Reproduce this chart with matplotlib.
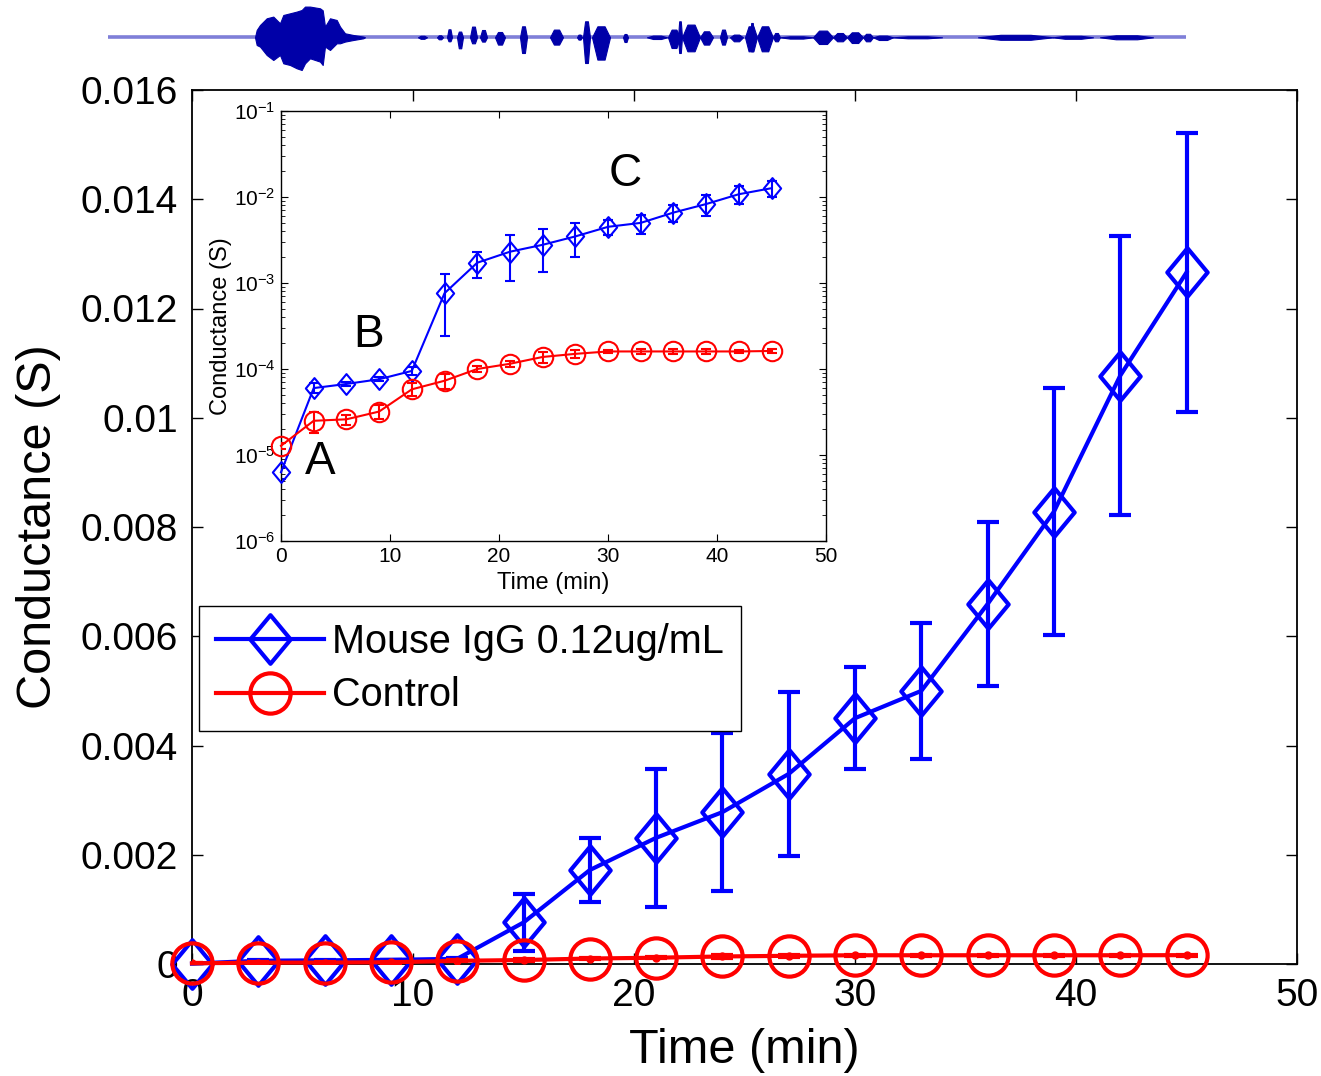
import numpy as np
import matplotlib
matplotlib.use('Agg')
import matplotlib.pyplot as plt
from matplotlib.path import Path

plt.rcParams['font.family'] = ['Liberation Sans', 'DejaVu Sans']
plt.rcParams['mathtext.fontset'] = 'custom'
plt.rcParams['mathtext.rm'] = 'Liberation Sans'
plt.rcParams['mathtext.default'] = 'regular'

# ---------------- data ----------------
time_min = [0, 3, 6, 9, 12, 15, 18, 21, 24, 27, 30, 33, 36, 39, 42, 45]
igg_mean = [6.3e-6, 6.0e-5, 6.7e-5, 7.6e-5, 9.5e-5, 7.6e-4, 1.72e-3, 2.31e-3,
            2.78e-3, 3.48e-3, 4.50e-3, 5.00e-3, 6.59e-3, 8.28e-3, 1.077e-2, 1.266e-2]
igg_err = [1.0e-6, 8.0e-6, 4.0e-6, 4.0e-6, 1.0e-5, 5.2e-4, 5.8e-4, 1.26e-3,
           1.45e-3, 1.50e-3, 0.93e-3, 1.25e-3, 1.50e-3, 2.26e-3, 2.55e-3, 2.55e-3]
ctrl_mean = [1.28e-5, 2.5e-5, 2.6e-5, 3.2e-5, 5.8e-5, 7.3e-5, 1.0e-4, 1.15e-4,
             1.38e-4, 1.5e-4, 1.6e-4, 1.6e-4, 1.6e-4, 1.6e-4, 1.6e-4, 1.62e-4]
ctrl_err = [1.0e-6, 7.0e-6, 3.5e-6, 6.0e-6, 1.0e-5, 1.5e-5, 8.0e-6, 1.0e-5,
            2.0e-5, 1.5e-5, 8.0e-6, 1.0e-5, 1.0e-5, 1.0e-5, 8.0e-6, 8.0e-6]
series_labels = ['Mouse IgG 0.12ug/mL', 'Control']

main_xticks = [0, 10, 20, 30, 40, 50]
main_yticks = [0, 0.002, 0.004, 0.006, 0.008, 0.01, 0.012, 0.014, 0.016]
main_yticklabels = ['0', '0.002', '0.004', '0.006', '0.008', '0.01', '0.012', '0.014', '0.016']
inset_yticks = [1e-6, 1e-5, 1e-4, 1e-3, 1e-2, 1e-1]
inset_yticklabels = ['$10^{-6}$', '$10^{-5}$', '$10^{-4}$', '$10^{-3}$', '$10^{-2}$', '$10^{-1}$']
stage_labels = ['A', 'B', 'C']

# audio waveform strip: main burst envelope (pos, up, down)
burst_pos = [147, 148.7, 152, 158.7, 165.3, 172, 175.3, 182, 188.7, 193.7, 197, 202,
             212, 214.7, 217, 222, 228.7, 232, 237, 245.3, 255.3, 257]
burst_up = [0, 7.3, 12.3, 19, 20.7, 14, 22.3, 24, 25.7, 27.3, 30.7, 30.7,
            29, 27, 10.7, 19, 17.3, 10.7, 4, 2.3, 0.7, 0]
burst_down = [0, 7.7, 9.3, 17.7, 22.7, 17.7, 26, 27.7, 31, 32.7, 26, 21,
              24.3, 27.7, 9.3, 12.7, 6, 6, 4.3, 2.7, 1, 0]
# smaller segments (start, end, up, down)
seg_start = [310, 329, 339, 349, 362, 372, 387, 412, 442, 469, 475, 484, 515, 539, 560, 570,
             574, 592, 612, 622, 637, 642, 649, 665, 672, 705, 725, 739, 755, 765, 785,
             870, 945, 992]
seg_end = [319, 335, 344, 355, 369, 379, 397, 419, 455, 474, 482, 502, 520, 559, 572, 574,
           592, 605, 619, 635, 649, 646, 665, 672, 705, 725, 739, 755, 765, 785, 834,
           945, 985, 1045]
seg_up = [1.5, 2, 8, 5.7, 10.7, 7.3, 5.3, 11, 7.7, 2.7, 16, 11, 3.3, 1.7, 7.7, 16,
          12.7, 6, 7.7, 2.7, 11, 14.3, 11, 4.3, 1, 6.7, 4.3, 5, 3.5, 1.7, 1,
          2.5, 1.5, 2]
seg_down = [1.5, 2, 4, 11, 6, 4.3, 7.3, 15.7, 7.3, 2.3, 25.7, 22.3, 4.7, 1.7, 10.7, 15.7,
            14, 7.3, 7.3, 4, 14, 14, 14, 4, 1.3, 6.7, 4, 5.7, 4, 2.7, 1,
            2.5, 1.5, 2]

# ---------------- figure ----------------
W, H = 1321, 1076
fig = plt.figure(figsize=(W / 100, H / 100), dpi=100)

def fig_rect(l, t, r, b):
    return [l / W, 1 - b / H, (r - l) / W, (b - t) / H]

BLUE = '#0000FF'
RED = '#FF0000'

diamond = Path([(0, 1), (0.83, 0), (0, -1), (-0.83, 0), (0, 1)],
               [Path.MOVETO, Path.LINETO, Path.LINETO, Path.LINETO, Path.CLOSEPOLY])

# main axes
ax = fig.add_axes(fig_rect(192, 90, 1297, 964))
ax.errorbar(time_min, igg_mean, yerr=igg_err, fmt='none', ecolor=BLUE,
            elinewidth=3, capsize=8, capthick=3, zorder=2)
l1, = ax.plot(time_min, igg_mean, color=BLUE, lw=3, marker=diamond, ms=35,
              mfc='none', mec=BLUE, mew=3, label=series_labels[0], zorder=3,
              clip_on=False)
ax.errorbar(time_min, ctrl_mean, yerr=ctrl_err, fmt='none', ecolor=RED,
            elinewidth=3, capsize=8, capthick=3, zorder=4)
l2, = ax.plot(time_min, ctrl_mean, color=RED, lw=3, marker='o', ms=29,
              mfc='none', mec=RED, mew=3, label=series_labels[1], zorder=5,
              clip_on=False)
ax.plot(time_min, ctrl_mean, ls='none', marker='o', ms=5, color=RED, zorder=5)
ax.set_xlim(0, 50)
ax.set_ylim(0, 0.016)
ax.set_xticks(main_xticks)
ax.set_xticklabels([str(v) for v in main_xticks])
ax.set_yticks(main_yticks)
ax.set_yticklabels(main_yticklabels)
ax.tick_params(direction='in', length=8, width=1, top=True, right=True,
               labelsize=28, pad=10)
for s in ax.spines.values():
    s.set_linewidth(1.3)
ax.set_xlabel('Time (min)', fontsize=35, labelpad=10)
ax.set_ylabel('Conductance (S)', fontsize=35, labelpad=14)

leg = ax.legend(handles=[l1, l2], loc='upper left',
                bbox_to_anchor=(199 / W, 1 - 606 / H), bbox_transform=fig.transFigure,
                borderaxespad=0, fontsize=28.5, handlelength=2.75, handletextpad=0.2,
                labelspacing=0.4, borderpad=0.42, fancybox=False, framealpha=1,
                edgecolor='black')
leg.get_frame().set_linewidth(1.0)
leg.set_zorder(10)

# inset axes
ai = fig.add_axes(fig_rect(281, 111, 826, 541))
ai.set_yscale('log')
ai.errorbar(time_min, igg_mean, yerr=igg_err, fmt='none', ecolor=BLUE,
            elinewidth=1.5, capsize=3.5, capthick=1.5, zorder=2)
ai.plot(time_min, igg_mean, color=BLUE, lw=1.5, marker=diamond, ms=15,
        mfc='none', mec=BLUE, mew=1.5, zorder=3, clip_on=False)
ai.errorbar(time_min, ctrl_mean, yerr=ctrl_err, fmt='none', ecolor=RED,
            elinewidth=1.5, capsize=3.5, capthick=1.5, zorder=4)
ai.plot(time_min, ctrl_mean, color=RED, lw=1.5, marker='o', ms=14,
        mfc='none', mec=RED, mew=1.5, zorder=5, clip_on=False)
ai.set_xlim(0, 50)
ai.set_ylim(1e-6, 1e-1)
ai.set_xticks(main_xticks)
ai.set_xticklabels([str(v) for v in main_xticks])
ai.set_yticks(inset_yticks)
ai.set_yticklabels(inset_yticklabels)
ai.tick_params(which='both', direction='in', top=True, right=True, labelsize=15, pad=4)
ai.tick_params(which='major', length=5, width=0.8)
ai.tick_params(which='minor', length=3, width=0.6)
ai.set_xlabel('Time (min)', fontsize=17, labelpad=5)
ai.set_ylabel('Conductance (S)', fontsize=17, labelpad=1)
for s in ai.spines.values():
    s.set_linewidth(1.0)
ai.text(3.6, 8.3e-6, stage_labels[0], fontsize=33, ha='center', va='center')
ai.text(8.0, 2.5e-4, stage_labels[1], fontsize=33, ha='center', va='center')
ai.text(31.6, 1.85e-2, stage_labels[2], fontsize=33, ha='center', va='center')

# waveform strip
aw = fig.add_axes(fig_rect(108, 0, 1186, 75))
aw.set_xlim(0, 1078)
aw.set_ylim(-37.7, 37.3)
aw.axis('off')
aw.plot([0, 1078], [0, 0], color='#7F7FD8', lw=2.6, solid_capstyle='butt', zorder=1)
bp = np.array(burst_pos)
aw.fill_between(bp, np.array(burst_up), -np.array(burst_down), color='#0000A8',
                lw=0.8, edgecolor='#0000A8', zorder=2)
for xs, xe, u, d in zip(seg_start, seg_end, seg_up, seg_down):
    span = xe - xs
    xx = [xs, xs + 0.3 * span, xe - 0.3 * span, xe]
    aw.fill_between(xx, [0, u, u, 0], [0, -d, -d, 0], color='#0000A8',
                    lw=0.8, edgecolor='#0000A8', zorder=2)

fig.savefig('out.png', dpi=100)
